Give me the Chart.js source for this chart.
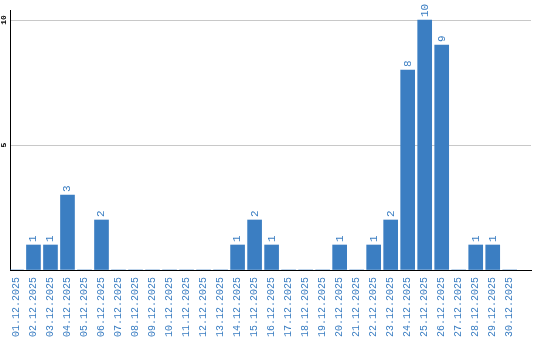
<!DOCTYPE html>
<html>
<head>
<meta charset="utf-8">
<script src="https://cdn.jsdelivr.net/npm/chart.js@4/dist/chart.umd.min.js"></script>
<style>
  html, body { margin: 0; padding: 0; background: #fff; }
  #wrap { width: 540px; height: 340px; }
</style>
</head>
<body>
<div id="wrap"><canvas id="chart" width="540" height="340"></canvas></div>
<script>
// days of december and the count per day
const days = ['01.12.2025','02.12.2025','03.12.2025','04.12.2025','05.12.2025','06.12.2025',
  '07.12.2025','08.12.2025','09.12.2025','10.12.2025','11.12.2025','12.12.2025','13.12.2025',
  '14.12.2025','15.12.2025','16.12.2025','17.12.2025','18.12.2025','19.12.2025','20.12.2025',
  '21.12.2025','22.12.2025','23.12.2025','24.12.2025','25.12.2025','26.12.2025','27.12.2025',
  '28.12.2025','29.12.2025','30.12.2025'];
const counts = [0,1,1,3,0,2,0,0,0,0,0,0,0,1,2,1,0,0,0,1,0,1,2,8,10,9,0,1,1,0];
const yTicks = [0, 5, 10];

const blue = '#3b7ec2';

// value labels above the bars, rotated like in the original
const barLabels = {
  id: 'barLabels',
  afterDatasetsDraw(chart) {
    const ctx = chart.ctx;
    const meta = chart.getDatasetMeta(0);
    ctx.save();
    ctx.fillStyle = blue;
    ctx.font = '11px "Liberation Mono", monospace';
    ctx.textAlign = 'left';
    ctx.textBaseline = 'middle';
    meta.data.forEach(function(bar, i) {
      if (!counts[i]) return;
      ctx.save();
      ctx.translate(bar.x, bar.y - 3);
      ctx.rotate(-Math.PI / 2);
      ctx.fillText(String(counts[i]), 0, 0);
      ctx.restore();
    });
    ctx.restore();
  }
};

// y tick labels, rotated
const yLabels = {
  id: 'yLabels',
  afterDraw(chart) {
    const ctx = chart.ctx;
    const y = chart.scales.y;
    ctx.save();
    ctx.fillStyle = '#000';
    ctx.font = 'bold 8px "Liberation Mono", monospace';
    ctx.textAlign = 'center';
    ctx.textBaseline = 'middle';
    yTicks.forEach(function(v) {
      if (v === 0) return;
      ctx.save();
      ctx.translate(4, y.getPixelForValue(v));
      ctx.rotate(-Math.PI / 2);
      ctx.fillText(String(v), 0, 0);
      ctx.restore();
    });
    ctx.restore();
  }
};

new Chart(document.getElementById('chart'), {
  type: 'bar',
  data: {
    datasets: [{
      data: counts.map(function(c, i) { return { x: i + 1, y: c }; }),
      backgroundColor: blue,
      borderWidth: 0,
      barThickness: 14
    }]
  },
  options: {
    responsive: false,
    animation: false,
    layout: { autoPadding: false, padding: { left: 10, right: 9, top: 10, bottom: 0 } },
    plugins: { legend: { display: false }, tooltip: { enabled: false } },
    scales: {
      x: {
        type: 'linear',
        offset: false,
        min: 0.62,
        max: 31.25,
        grid: { display: false, drawTicks: false },
        border: { color: '#000', width: 1 },
        afterBuildTicks(scale) {
          scale.ticks = days.map(function(d, i) { return { value: i + 1 }; });
        },
        afterFit(scale) { scale.height = 70; },
        ticks: {
          autoSkip: false,
          minRotation: 90,
          maxRotation: 90,
          padding: 7,
          color: blue,
          font: { family: '"Liberation Mono", monospace', size: 10 },
          callback: function(v) { return days[v - 1] || ''; }
        }
      },
      y: {
        min: 0,
        max: 10.4,
        afterBuildTicks(scale) {
          scale.ticks = yTicks.map(function(v) { return { value: v }; });
        },
        ticks: { display: false },
        grid: { color: '#c8c8c8', drawTicks: false },
        border: { color: '#000', width: 1 }
      }
    }
  },
  plugins: [barLabels, yLabels]
});
</script>
</body>
</html>
